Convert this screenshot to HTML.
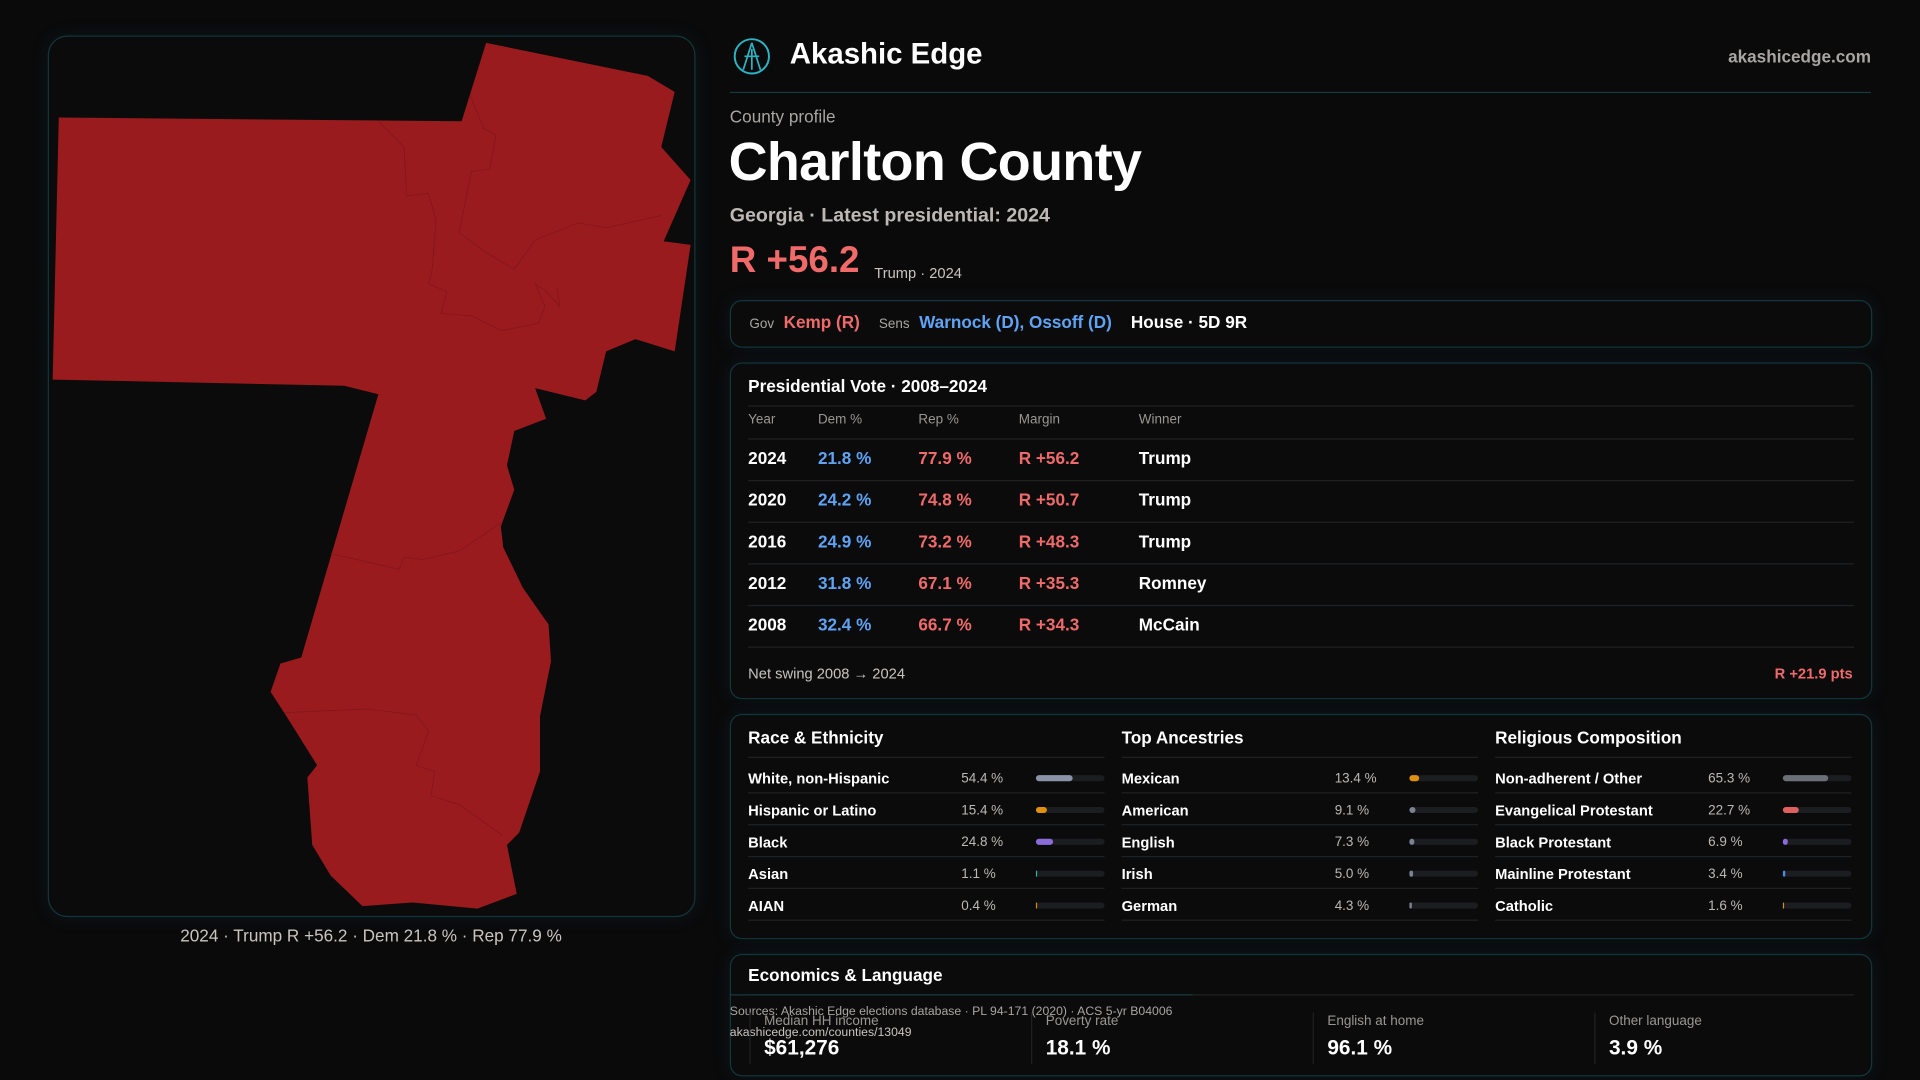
<!DOCTYPE html>
<html><head><meta charset="utf-8">
<style>
html,body{margin:0;padding:0;background:#0a0a0b;width:1920px;height:1080px;overflow:hidden;font-family:"Liberation Sans",sans-serif;color:#fff}
#stage{position:absolute;left:0;top:0;width:1568px;height:882px;transform:scale(1.22449);transform-origin:0 0}
.abs{position:absolute;white-space:nowrap}
.box{position:absolute;border:1px solid #12363c;border-radius:10px;background:#0b0b0c;box-shadow:0 0 14px rgba(20,80,90,0.18)}
.gray{color:#a9a5a2}
.dem{color:#5fa3f5}.rep{color:#f06a6a}
.hl{position:absolute;height:1px;background:#1f2224}
</style></head><body>
<div id="stage">
  <div class="box" style="left:39px;top:29px;width:527px;height:718px;border-radius:16px"></div>
  <svg class="abs" width="1568" height="882" style="left:0;top:0">
    <polygon fill="#991b1e" points="397,35 529,62 551,75 540,120 564,147 542,197 564,200 551,287 519,277 495,287 487,320 478,327 437,317 446,342 420,352 414,380 420,400 409,430 411,447 427,480 448,510 450,540 441,585 441,630 424,680 414,690 422,730 390,742 337,737 296,740 270,715 255,690 251,635 259,625 234,585 221,565 229,542 246,537 309,322 281,315 43,310 48,96 377,99"/>
    <g fill="none" stroke="#801619" stroke-width="0.6">
      <polyline points="270,452 326,465 330,455 345,457 375,450 409,427"/>
      <polyline points="232,582 300,579 340,584 350,597 340,625 355,630 352,650 375,657 410,682"/>
      <polyline points="309,99 330,120 332,160 350,158 356,180 353,220 350,232 365,238 360,256 385,258 410,270 440,264 445,250 437,232 445,237 457,250 455,235"/>
      <polyline points="384,78 395,105 405,110 400,138 385,140 375,190 395,205 420,220 437,196 472,182 495,186 540,176"/>
    </g>
  </svg>
  <div class="abs" style="left:0;width:606px;top:756px;text-align:center;font-size:14px;color:#c9c4c0">2024 · Trump R +56.2 · Dem 21.8 % · Rep 77.9 %</div>

  <svg class="abs" width="32" height="32" style="left:598px;top:30px" viewBox="0 0 32 32"><circle cx="16" cy="16" r="14" fill="none" stroke="#2bb5c4" stroke-width="1.6"/><path d="M16 5 L9 27 M16 5 L23 27 M10 16 H22 M16 10 V27" stroke="#2bb5c4" stroke-width="1.4" fill="none"/></svg>
  <div class="abs" style="left:645px;top:31px;font-size:24px;font-weight:bold">Akashic Edge</div>
  <div class="abs gray" style="right:40px;top:38px;font-size:14px;font-weight:bold">akashicedge.com</div>
  <div class="abs" style="left:596px;top:75px;width:932px;height:1px;background:#163a40"></div>
  <div class="abs gray" style="left:596px;top:87px;font-size:14px">County profile</div>
  <div class="abs" style="left:595px;top:108px;font-size:44px;font-weight:bold;letter-spacing:-0.5px">Charlton County</div>
  <div class="abs" style="left:596px;top:168px;font-size:16px;color:#bdb8b4;font-weight:bold">Georgia · Latest presidential: 2024</div>
  <div class="abs rep" style="left:596px;top:196px;font-size:30px;font-weight:bold">R +56.2</div>
  <div class="abs" style="left:714px;top:216px;font-size:12px;color:#c9c4c0">Trump · 2024</div>

  <div class="box" style="left:596px;top:245px;width:931px;height:37px"></div>
  <div class="abs" style="left:612px;top:255px;font-size:14px">
    <span class="gray" style="font-size:11px">Gov</span>&nbsp; <span class="rep" style="font-weight:bold">Kemp (R)</span>&nbsp;&nbsp;&nbsp; <span class="gray" style="font-size:11px">Sens</span>&nbsp; <span class="dem" style="font-weight:bold">Warnock (D), Ossoff (D)</span>&nbsp;&nbsp;&nbsp; <span style="font-weight:bold">House · 5D 9R</span></div>

  <div class="box" style="left:596px;top:296px;width:931px;height:273px"></div>
  <div class="abs" style="left:611px;top:307px;font-size:14px;font-weight:bold">Presidential Vote · 2008–2024</div>
  <div class="hl" style="left:611px;top:331px;width:903px"></div>
  <div class="abs" style="left:611px;top:543px;font-size:12px;color:#c9c4c0">Net swing 2008 → 2024</div>
  <div class="abs rep" style="right:55px;top:543px;font-size:12px;font-weight:bold">R +21.9 pts</div>

  <div class="box" style="left:596px;top:583px;width:931px;height:182px"></div>

  <div class="box" style="left:596px;top:779px;width:931px;height:98px"></div>
  <div class="abs" style="left:611px;top:788px;font-size:14px;font-weight:bold">Economics &amp; Language</div>
  <div class="hl" style="left:611px;top:812px;width:903px"></div>
  <div class="abs" style="left:596px;top:812px;width:378px;height:1px;background:#163a40"></div>
  <div class="abs" style="left:596px;top:821px;font-size:10px;color:#a9a5a2">Sources: Akashic Edge elections database · PL 94-171 (2020) · ACS 5-yr B04006</div>
  <div class="abs" style="left:596px;top:838px;font-size:10px;color:#c9c4c0">akashicedge.com/counties/13049</div>
</div>
<script>
const years=["2024","2020","2016","2012","2008"];
const demPct=[21.8,24.2,24.9,31.8,32.4];
const repPct=[77.9,74.8,73.2,67.1,66.7];
const margins=[56.2,50.7,48.3,35.3,34.3];
const winners=["Trump","Trump","Trump","Romney","McCain"];
const raceLabels=["White, non-Hispanic","Hispanic or Latino","Black","Asian","AIAN"];
const raceValues=[54.4,15.4,24.8,1.1,0.4];
const ancLabels=["Mexican","American","English","Irish","German"];
const ancValues=[13.4,9.1,7.3,5.0,4.3];
const relLabels=["Non-adherent / Other","Evangelical Protestant","Black Protestant","Mainline Protestant","Catholic"];
const relValues=[65.3,22.7,6.9,3.4,1.6];
const econLabels=["Median HH income","Poverty rate","English at home","Other language"];
const econValues=["$61,276","18.1 %","96.1 %","3.9 %"];

const stage=document.getElementById('stage');
function mk(css,text,cls){const d=document.createElement('div');d.className='abs'+(cls?' '+cls:'');d.style.cssText=css;if(text!==undefined)d.textContent=text;stage.appendChild(d);return d;}
const cols=[611,668,750,832,930];
["Year","Dem %","Rep %","Margin","Winner"].forEach((h,i)=>{const e=mk(`left:${cols[i]}px;top:337px;font-size:11px;color:#9a9693`,h);

});
mk('left:611px;top:358px;width:903px;height:1px;background:#1f2224','');
years.forEach((y,i)=>{const top=366+i*34;const m=margins[i];
const row=[[y,'#fff'],[demPct[i].toFixed(1)+' %','#5fa3f5'],[repPct[i].toFixed(1)+' %','#f06a6a'],[(m>=0?'R +':'D +')+Math.abs(m).toFixed(1),'#f06a6a'],[winners[i],'#fff']];
row.forEach((c,j)=>{const e=mk(`left:${cols[j]}px;top:${top}px;font-size:14px;font-weight:bold;color:${c[1]}`,c[0]);

});
const l=mk(`left:611px;top:${392+i*34}px;width:903px;height:1px;background:#1f2224`,'');

});
const groups=[["Race & Ethnicity",raceLabels,raceValues,["#8a93a6","#e0900f","#8a6cd9","#2bb59a","#d08a20"]],
["Top Ancestries",ancLabels,ancValues,["#e0900f","#7b8294","#7b8294","#7b8294","#7b8294"]],
["Religious Composition",relLabels,relValues,["#6b6f78","#e06060","#8a6cd9","#4a8ae0","#d09020"]]];
groups.forEach((g,gi)=>{const x=611+gi*305;
const t=mk(`left:${x}px;top:594px;font-size:14px;font-weight:bold`,g[0]);


mk(`left:${x}px;top:618px;width:291px;height:1px;background:#1f2224`,'');
g[1].forEach((lab,i)=>{const top=629+i*26;
const a=mk(`left:${x}px;top:${top}px;font-size:12px;font-weight:bold`,lab);


const v=mk(`left:${x+174}px;top:${top+1}px;font-size:11px;color:#bdb8b4`,g[2][i].toFixed(1)+' %');


const tr=mk(`left:${x+235}px;top:${top+4}px;width:56px;height:5px;border-radius:3px;background:#1c1d20`,'');


const f=mk(`left:${x+235}px;top:${top+4}px;width:${Math.max(1,56*g[2][i]/100)}px;height:5px;border-radius:3px;background:${g[3][i]}`,'');


mk(`left:${x}px;top:${top+18}px;width:291px;height:1px;background:#1f2224`,'');});});
econLabels.forEach((lab,i)=>{const x=612+i*230;
mk(`left:${x}px;top:827px;width:1px;height:42px;background:#1f2224`,'');
const a=mk(`left:${x+12}px;top:828px;font-size:11px;color:#9a9693`,lab);


const v=mk(`left:${x+12}px;top:846px;font-size:17px;font-weight:bold`,econValues[i]);

});
</script>
</body></html>
